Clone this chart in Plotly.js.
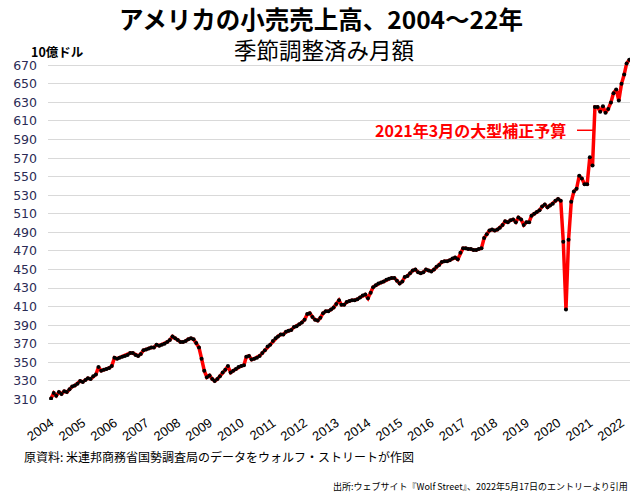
<!DOCTYPE html>
<html>
<head>
<meta charset="utf-8">
<script src="https://cdn.plot.ly/plotly-3.0.1.min.js"></script>
<style>html,body{margin:0;padding:0;background:#fff;}#chart{width:640px;height:492px;}</style>
</head>
<body>
<div id="chart"></div>
<script>
// Monthly retail sales, seasonally adjusted (billion USD), Jan 2004 – Apr 2022
const startYear = 2004;
const sales2004 = [311, 317, 314, 318, 316, 319, 318, 321, 324, 325, 327, 330];
const sales2005 = [329, 331, 333, 332, 335, 337, 345, 341, 342, 343, 344, 346];
const sales2006 = [355, 354, 355, 356, 357, 358, 360, 360, 358, 357, 359, 363];
const sales2007 = [364, 365, 366, 366, 369, 368, 369, 370, 372, 374, 378, 376];
const sales2008 = [374, 372, 372, 373, 375, 376, 375, 371, 366, 354, 341, 334];
const sales2009 = [336, 332, 330, 332, 335, 339, 342, 346, 339, 341, 343, 345];
const sales2010 = [346, 347, 356, 357, 353, 354, 355, 357, 360, 363, 367, 369];
const sales2011 = [373, 376, 378, 380, 380, 383, 384, 385, 388, 389, 391, 393];
const sales2012 = [396, 402, 403, 399, 396, 395, 398, 403, 405, 405, 407, 409];
const sales2013 = [413, 417, 412, 412, 415, 416, 417, 417, 418, 420, 422, 423];
const sales2014 = [419, 425, 431, 433, 435, 436, 437, 439, 440, 441, 441, 438];
const sales2015 = [435, 437, 442, 443, 446, 449, 450, 447, 446, 447, 450, 449];
const sales2016 = [448, 450, 453, 455, 458, 459, 459, 460, 462, 463, 461, 468];
const sales2017 = [473, 473, 472, 472, 471, 471, 472, 473, 484, 488, 492, 493];
const sales2018 = [492, 493, 495, 498, 502, 501, 503, 504, 501, 506, 504, 498];
const sales2019 = [501, 501, 508, 510, 512, 514, 518, 520, 517, 519, 521, 524];
const sales2020 = [526, 524, 480, 407, 482, 523, 534, 537, 551, 548, 542, 542];
const sales2021 = [571, 562, 625, 625, 620, 626, 619, 623, 630, 640, 644, 632];
const sales2022 = [650, 660, 672, 676];

const yearTickLabels = ['2004','2005','2006','2007','2008','2009','2010','2011','2012','2013',
  '2014','2015','2016','2017','2018','2019','2020','2021','2022'];
const yTicks = [310,330,350,370,390,410,430,450,470,490,510,530,550,570,590,610,630,650,670];

const annotationText = '2021年3月の大型補正予算';
const annotationValue = 600;

const allYears = [sales2004, sales2005, sales2006, sales2007, sales2008, sales2009, sales2010,
  sales2011, sales2012, sales2013, sales2014, sales2015, sales2016, sales2017, sales2018,
  sales2019, sales2020, sales2021, sales2022];

const xs = [], ys = [];
allYears.forEach((arr, i) => {
  const yr = startYear + i;
  arr.forEach((v, m) => {
    xs.push(yr + '-' + String(m + 1).padStart(2, '0') + '-01');
    ys.push(v);
  });
});
const tickVals = yearTickLabels.map(y => y + '-01-01');

const cjk = '"Noto Sans CJK JP", "Noto Sans", sans-serif';
const PL = 48, PW = 582, PT = 56, PH = 344;
const px = x => (x - PL) / PW;
const py = y => (PT + PH - y) / PH;

const trace = {
  x: xs, y: ys, type: 'scatter', mode: 'lines+markers',
  line: {color: '#ff0000', width: 3.5},
  marker: {color: '#000000', size: 4},
  hoverinfo: 'skip'
};

const layout = {
  width: 640, height: 492,
  margin: {l: PL, r: 640 - PL - PW, t: PT, b: 492 - PT - PH},
  paper_bgcolor: '#ffffff', plot_bgcolor: '#ffffff',
  showlegend: false,
  title: {
    text: 'アメリカの小売売上高、2004～22年',
    font: {family: cjk, size: 24.5, color: '#000000', weight: 'bold'},
    x: px(321), xref: 'paper', xanchor: 'center',
    y: 1 - 20 / 492, yref: 'container', yanchor: 'middle'
  },
  xaxis: {
    type: 'date',
    range: ['2003-11-27', '2022-04-09'],
    tickvals: tickVals, ticktext: yearTickLabels,
    tickangle: -35,
    tickfont: {family: 'Liberation Sans, Arial, sans-serif', size: 13, color: '#000000'},
    showgrid: false, zeroline: false, showline: false,
    ticks: '', ticklabelstandoff: 12
  },
  yaxis: {
    range: [309.5, 680],
    tickvals: yTicks,
    tickfont: {family: 'DejaVu Sans, Verdana, sans-serif', size: 12.5, color: '#2b2b55'},
    showgrid: true, gridcolor: '#d9d9d9', gridwidth: 1,
    zeroline: false, showline: false, ticks: '', ticklabelstandoff: 10
  },
  shapes: [
    {type: 'line', xref: 'paper', yref: 'y', x0: px(577), x1: px(593),
     y0: annotationValue, y1: annotationValue, line: {color: '#ff0000', width: 1.5}}
  ],
  annotations: [
    {text: '季節調整済み月額', xref: 'paper', yref: 'paper', x: px(324), y: py(49),
     xanchor: 'center', yanchor: 'middle', showarrow: false,
     font: {family: cjk, size: 22.5, color: '#000000'}},
    {text: '10億ドル', xref: 'paper', yref: 'paper', x: px(29), y: py(52),
     xanchor: 'left', yanchor: 'middle', showarrow: false,
     font: {family: cjk, size: 12.5, color: '#000000', weight: 'bold'}},
    {text: annotationText, xref: 'paper', yref: 'y', x: px(568), y: annotationValue,
     xanchor: 'right', yanchor: 'middle', showarrow: false,
     font: {family: cjk, size: 16, color: '#ff0000', weight: 'bold'}},
    {text: '原資料: 米連邦商務省国勢調査局のデータをウォルフ・ストリートが作図', xref: 'paper', yref: 'paper',
     x: px(22), y: py(456), xanchor: 'left', yanchor: 'middle', showarrow: false,
     font: {family: cjk, size: 12, color: '#000000'}},
    {text: '出所:ウェブサイト『Wolf Street』、2022年5月17日のエントリーより引用', xref: 'paper', yref: 'paper',
     x: px(630), y: py(486), xanchor: 'right', yanchor: 'middle', showarrow: false,
     font: {family: cjk, size: 9, color: '#000000'}}
  ]
};

Plotly.newPlot('chart', [trace], layout, {staticPlot: true, displayModeBar: false});
</script>
</body>
</html>
